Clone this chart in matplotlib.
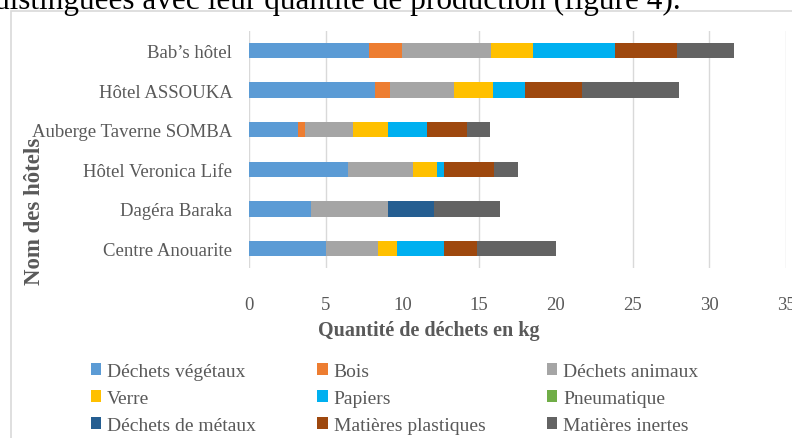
import matplotlib
matplotlib.use("Agg")
import matplotlib.pyplot as plt
from matplotlib.patches import Rectangle, Patch
import numpy as np

hotels = ["Bab\u2019s hôtel", "Hôtel ASSOUKA", "Auberge Taverne SOMBA",
          "Hôtel Veronica Life", "Dagéra Baraka", "Centre Anouarite"]

categories = ["Déchets végétaux", "Bois", "Déchets animaux", "Verre", "Papiers",
              "Pneumatique", "Déchets de métaux", "Matières plastiques", "Matières inertes"]

dechets_vegetaux = [7.85, 8.23, 3.21, 6.47, 4.04, 5.02]
bois = [2.12, 0.94, 0.46, 0.0, 0.0, 0.0]
dechets_animaux = [5.83, 4.17, 3.13, 4.20, 5.00, 3.39]
verre = [2.71, 2.59, 2.24, 1.59, 0.0, 1.26]
papiers = [5.35, 2.06, 2.58, 0.43, 0.0, 3.06]
pneumatique = [0.0, 0.0, 0.0, 0.0, 0.0, 0.0]
dechets_metaux = [0.0, 0.0, 0.0, 0.0, 3.02, 0.0]
matieres_plastiques = [4.04, 3.70, 2.59, 3.26, 0.0, 2.15]
matieres_inertes = [3.70, 6.34, 1.50, 1.61, 4.30, 5.11]

series = [dechets_vegetaux, bois, dechets_animaux, verre, papiers,
          pneumatique, dechets_metaux, matieres_plastiques, matieres_inertes]
colors = ["#5B9BD5", "#ED7D31", "#A5A5A5", "#FFC000", "#00B0F0",
          "#70AD47", "#255E91", "#9E480E", "#636363"]

xticks = [0, 5, 10, 15, 20, 25, 30, 35]

W, H = 792, 439
fig = plt.figure(figsize=(W / 100, H / 100), dpi=100)
serif = ["Liberation Serif", "DejaVu Serif"]

# document text cut at the top
fig.text(-6 / W, 1 - 9 / H, "distinguées avec leur quantité de production (figure 4).",
         fontsize=22.5, family=serif, color="black", va="baseline", ha="left")

# chart border
fig.patches.append(Rectangle((10.5 / W, -0.05), 1.2, 1 - 12 / H + 0.05,
                             transform=fig.transFigure, fill=False,
                             edgecolor="#D9D9D9", linewidth=1.2))

ax = fig.add_axes([249 / W, 1 - 269.3 / H, (786 - 249) / W, (269.3 - 31.75) / H])
ypos = np.arange(len(hotels))
left = np.zeros(len(hotels))
for vals, col, name in zip(series, colors, categories):
    v = np.array(vals)
    ax.barh(ypos, v, left=left, height=0.39, color=col, label=name, zorder=3)
    left += v

ax.set_ylim(len(hotels) - 0.5, -0.5)
ax.set_xlim(0, 35)
ax.set_xticks(xticks)
ax.set_xticklabels([str(t) for t in xticks])
for gx in [0, 5, 15, 25, 30, 35]:
    ax.axvline(gx, color="#D9D9D9", linewidth=1.0, zorder=1)
ax.set_yticks(ypos)
ax.set_yticklabels(hotels)
for s in ax.spines.values():
    s.set_visible(False)
ax.tick_params(axis="both", length=0, colors="#595959", labelsize=13.5)
ax.tick_params(axis="y", pad=12)
ax.tick_params(axis="x", pad=20)
for lab in ax.get_xticklabels() + ax.get_yticklabels():
    lab.set_family(serif)
    lab.set_color("#595959")

fig.text(429 / W, 1 - 331 / H, "Quantité de déchets en kg", fontsize=14.5,
         fontweight="bold", family=serif, color="#595959", ha="center", va="center")
fig.text(35 / W, 1 - 211 / H, "Nom des hôtels", fontsize=16.5, rotation=90,
         fontweight="bold", family=serif, color="#595959", ha="center", va="center")

# legend filled row by row (3 columns)
order = [0, 3, 6, 1, 4, 7, 2, 5, 8]
handles = [Patch(facecolor=colors[i], edgecolor="none") for i in order]
labels = [categories[i] for i in order]
leg = fig.legend(handles, labels, ncol=3, loc="upper left",
                 bbox_to_anchor=(77 / W, 1 - 350 / H), frameon=False,
                 prop={"family": serif, "size": 14},
                 handlelength=0.55, handleheight=0.55, handletextpad=0.3,
                 columnspacing=3.15, labelspacing=0.52, borderpad=0.2)
for t in leg.get_texts():
    t.set_color("#595959")

fig.savefig("out.png", dpi=100)
